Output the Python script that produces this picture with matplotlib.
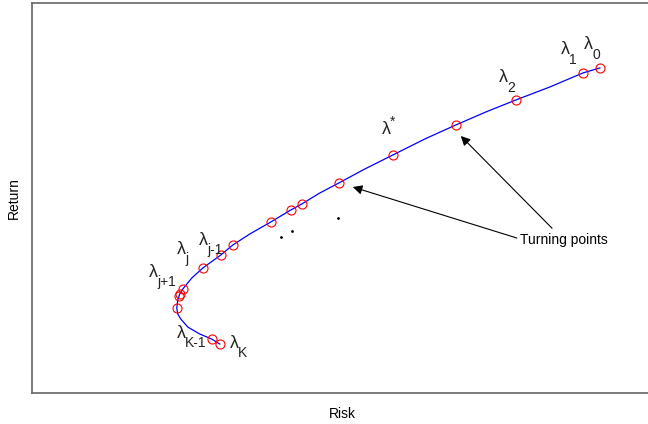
import matplotlib.pyplot as plt

plt.rcParams['font.family'] = ['Liberation Sans', 'DejaVu Sans']

# efficient frontier (risk, return)
curve_risk = [600, 583, 550, 516, 486, 456, 425, 393, 365, 339, 320, 302, 291, 271,
              250, 233, 221, 203, 192, 183, 180, 178, 177, 178, 181, 188, 200, 212, 220]
curve_ret = [356, 351, 337, 324, 312, 299, 285, 269, 255, 241, 231, 220, 214, 202,
             190, 179, 169, 156, 146, 135, 130, 124, 116, 110, 105, 97, 90, 85, 80]

# corner portfolios (red circles)
corner_risk = [600, 583, 516, 456, 393, 339, 302, 291, 271, 233, 221, 203, 183, 180, 179, 177, 212, 220]
corner_ret = [356, 351, 324, 299, 269, 241, 220, 214, 202, 179, 169, 156, 135, 130, 128, 116, 85, 80]

dots_risk = [281, 292, 338]
dots_ret = [187, 193, 206]

# lambda labels: position of the lambda and its subscript / superscript
label_sub = ['0', '1', '2', '*', 'j-1', 'j', 'j+1', 'K-1', 'K']
label_risk = [589, 566, 504, 387, 204, 182, 154, 182, 235]
label_ret = [379, 374, 346, 294, 184, 175, 152, 91, 81]

fig = plt.figure(figsize=(6.48, 4.24), dpi=100)
ax = fig.add_axes([0.049, 0.073, 0.96, 0.92])

ax.plot(curve_risk, curve_ret, color='#0000ff', lw=0.9)
ax.plot(corner_risk, corner_ret, 'o', mfc='none', mec='red', ms=6.5, mew=0.8)
ax.plot(dots_risk, dots_ret, 'k.', ms=2)

for sub, x, y in zip(label_sub, label_risk, label_ret):
    ax.text(x, y, '\u03bb', fontsize=13, ha='center', va='center', color='#222222')
    dy = 6 if sub == '*' else -7
    ax.annotate(sub, (x, y), xytext=(2.5, dy), textcoords='offset points',
                fontsize=10, ha='left', va='center', color='#222222')

arrow = dict(arrowstyle='-|>', color='black', lw=0.8, mutation_scale=14)
ax.annotate('Turning points', xy=(461, 288), xytext=(520, 184), fontsize=10,
            ha='left', va='center', arrowprops=dict(arrow, shrinkA=2, shrinkB=0))
ax.annotate('', xy=(353, 237), xytext=(517, 186),
            arrowprops=dict(arrow, shrinkA=0, shrinkB=0))

ax.set_xlim(32, 654)
ax.set_ylim(31, 421)
ax.set_xticks([])
ax.set_yticks([])
for s in ax.spines.values():
    s.set_color('#666666')
    s.set_linewidth(1.2)
ax.spines['right'].set_visible(False)
ax.set_xlabel('Risk', fontsize=10, labelpad=10)
ax.set_ylabel('Return', fontsize=10, labelpad=8)

plt.savefig('out.png', dpi=100)
